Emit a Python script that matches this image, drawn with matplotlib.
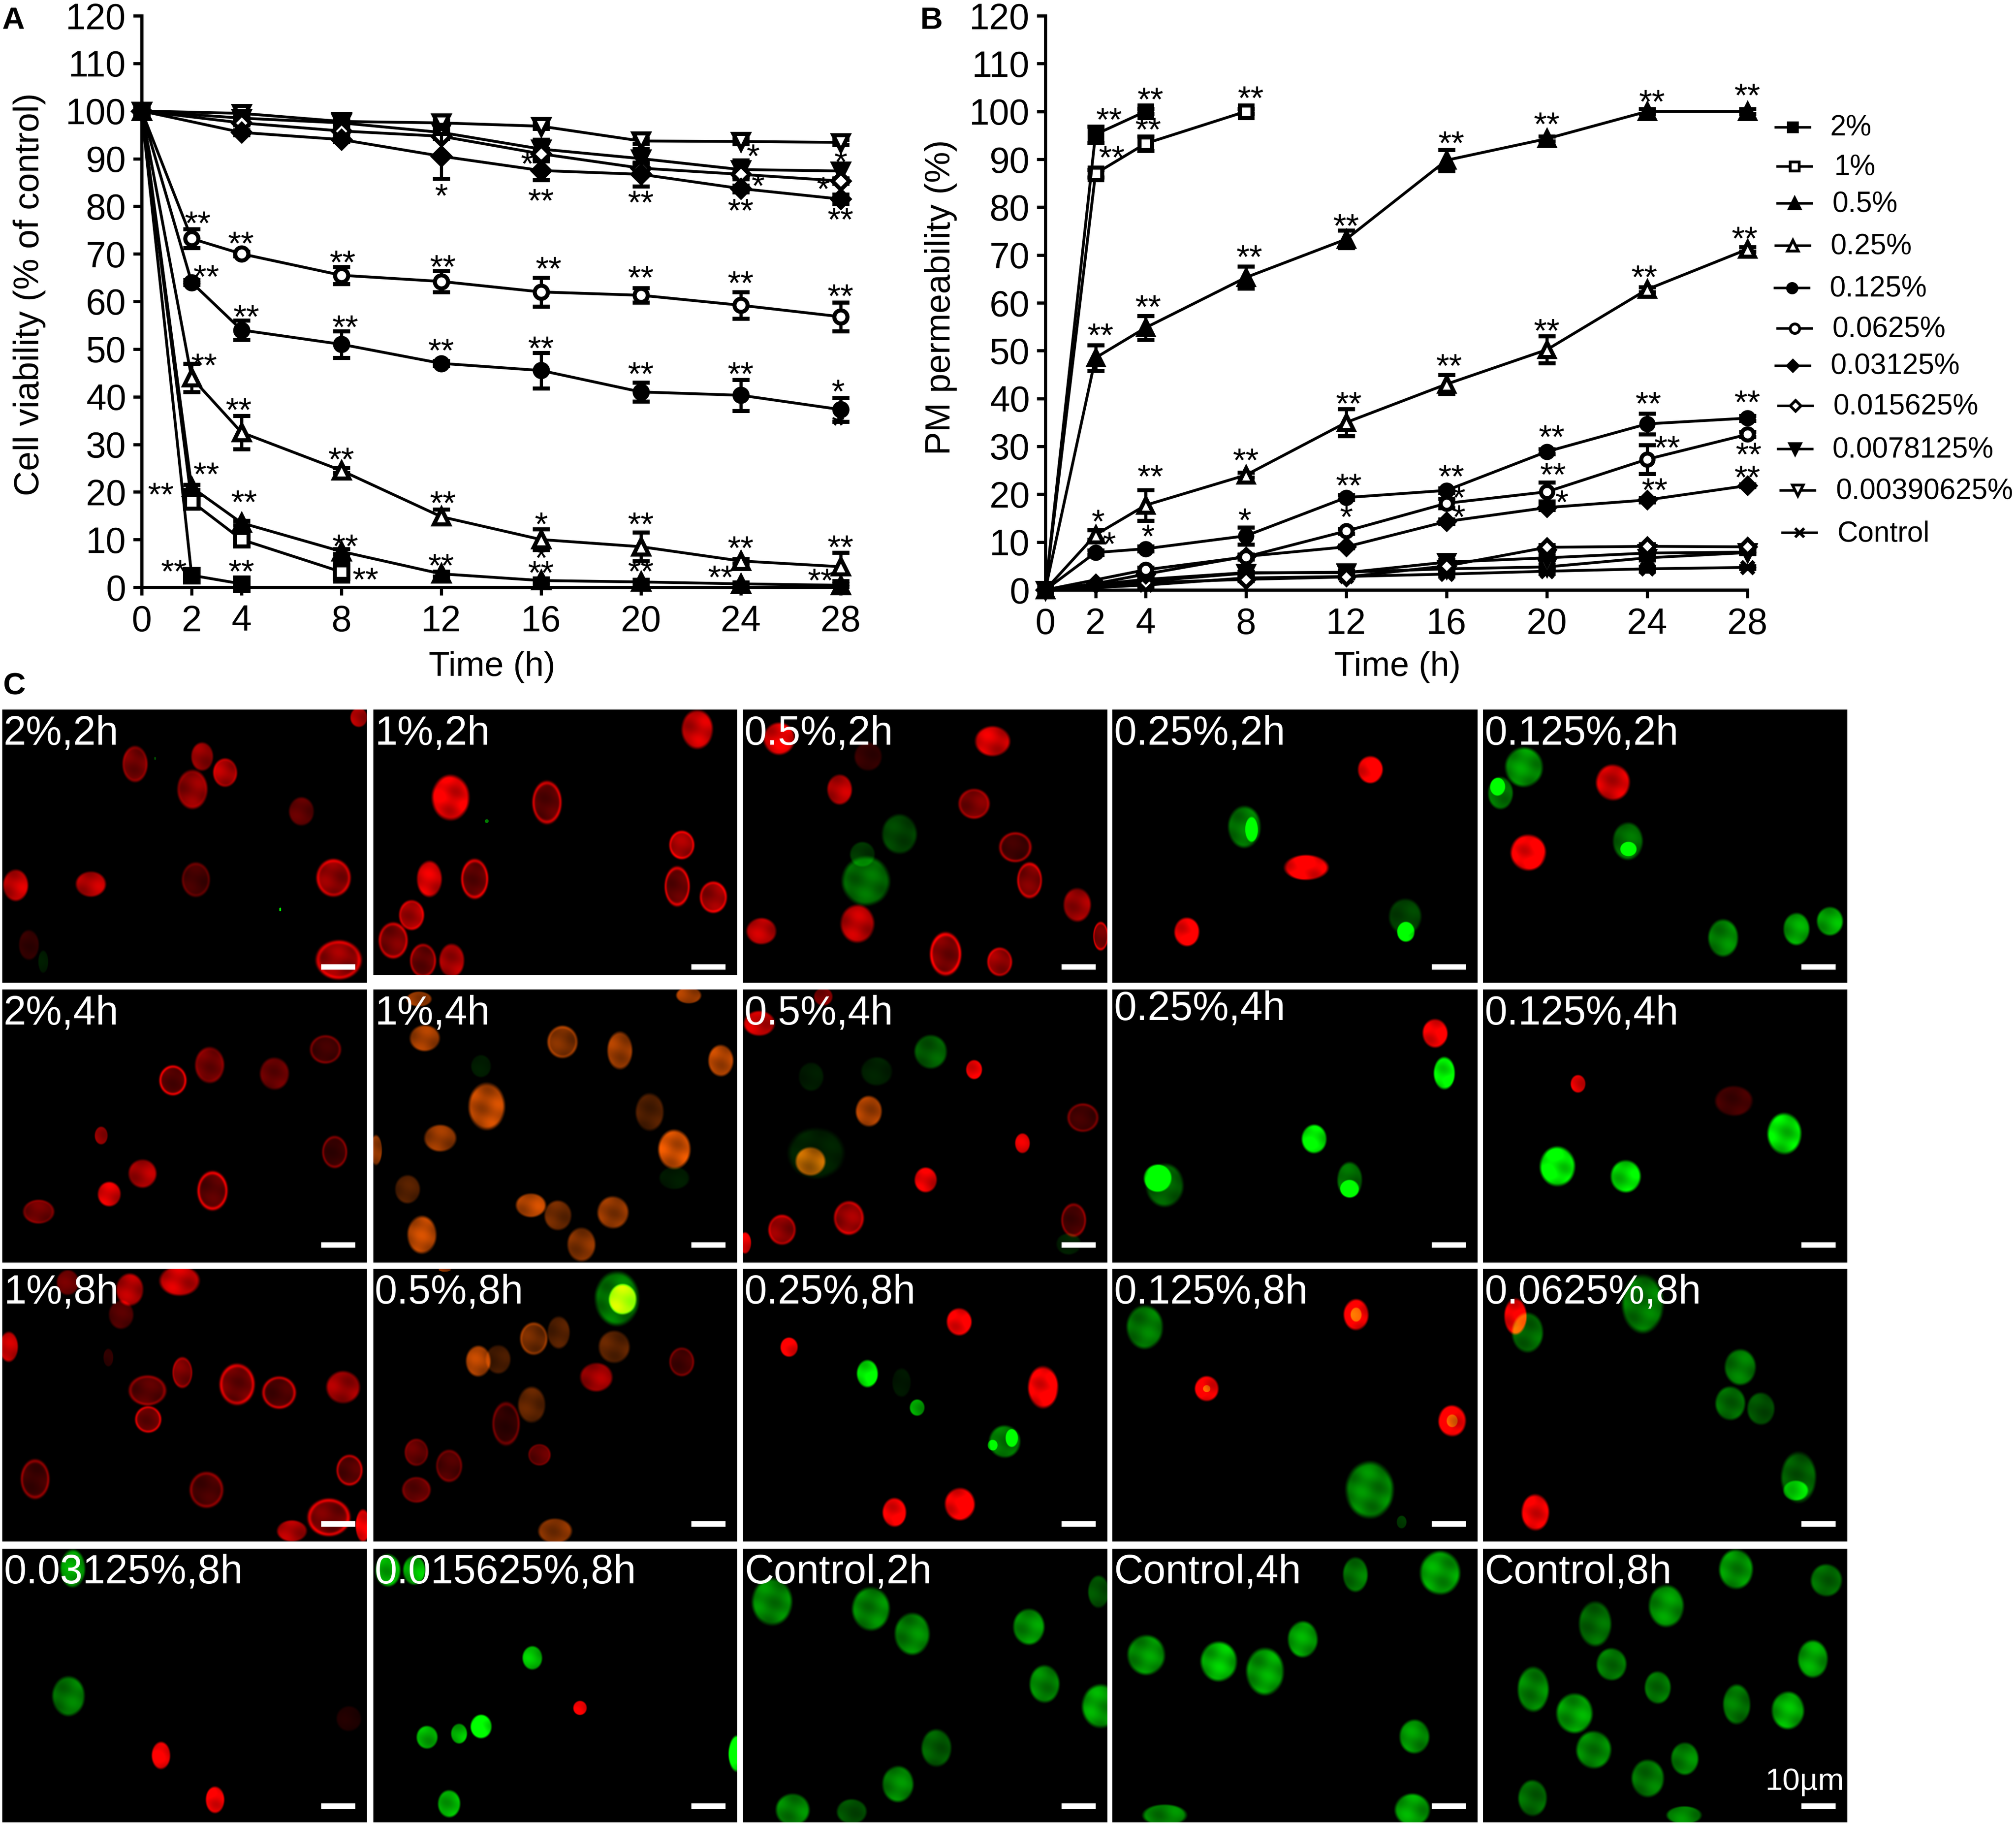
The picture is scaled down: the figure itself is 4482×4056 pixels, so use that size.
import numpy as np
import matplotlib
matplotlib.use("Agg")
import matplotlib.pyplot as plt
from matplotlib.patches import Rectangle

W, H = 4482, 4056
plt.rcParams['font.family'] = ['Liberation Sans', 'DejaVu Sans']

TIME = [0, 2, 4, 8, 12, 16, 20, 24, 28]
TICKS_Y = list(range(0, 121, 10))
SERIES = ['2%', '1%', '0.5%', '0.25%', '0.125%', '0.0625%', '0.03125%',
          '0.015625%', '0.0078125%', '0.00390625%', 'Control']

# Panel A values (None: no reading at that time)
A_2 = [100, 2.5, 0.7]
A_1 = [100, 18, 10, 3.2]
A_05 = [100, 21, 13.5, 7.5, 2.8, 1.4, 1.1, 0.7, 0.4]
A_025 = [100, 44, 32.5, 24.5, 14.8, 10, 8.5, 5.5, 4.3]
A_0125 = [100, 64, 54, 51, 47, 45.5, 41, 40.3, 37.3]
A_00625 = [100, 73.2, 70, 65.5, 64.2, 62, 61.3, 59.2, 56.8]
A_003 = [100, None, 95.5, 94, 90.5, 87.5, 86.7, 83.7, 81.5]
A_0015 = [100, None, 97.5, 95.8, 94.7, 91, 88, 86.7, 85.3]
A_0007 = [100, None, 98.5, 97.5, 95.5, 92, 90, 87.7, 87.4]
A_0003 = [100, None, 99.5, 97.8, 97.5, 96.8, 93.7, 93.6, 93.4]
A_E2 = [0, 0.8, 0.5]
A_E1 = [0, 1, 1, 2]
A_E05 = [0, 0.5, 0.5, 0.5, 0.5, 0.5, 0.5, 0.3, 0.3]
A_E025 = [0, 3, 3.5, 0.5, 1.5, 2.2, 3, 0.5, 3]
A_E0125 = [0, 0.5, 2, 2.8, 0.5, 3.7, 2, 3.3, 2.5]
A_E00625 = [0, 2, 0.5, 1.8, 2.2, 3, 1.5, 2.8, 3]
A_E003 = [0, 0, 0.5, 0.5, 4.7, 2, 2.5, 0.7, 1]
A_E0015 = [0, 0, 0.5, 0.5, 0.5, 1, 1, 0.5, 0.5]
A_E0007 = [0, 0, 0.3, 0.5, 0.5, 2, 2, 2, 1.5]
A_E0003 = [0, 0, 0.5, 0.5, 0.5, 0.5, 0.5, 0.5, 0.5]

# Panel B values
B_2 = [0, 95.2, 100]
B_1 = [0, 87, 93.3, 100]
B_05 = [0, 48.5, 54.8, 65.3, 73.3, 89.8, 94.3, 100, 100]
B_025 = [0, 11.5, 17.7, 24, 35, 43, 50.2, 62.8, 71.2]
B_0125 = [0, 7.8, 8.6, 11.3, 19.3, 20.8, 28.9, 34.7, 35.9]
B_00625 = [0, None, 4.2, 6.9, 12.3, 18.1, 20.5, 27.3, 32.5]
B_003 = [0, 1.3, 3.3, 7, 9, 14.3, 17.2, 18.8, 21.8]
B_0015 = [0, None, 1.5, 2.2, 2.7, 5, 8.9, 9.1, 9.0]
B_0007 = [0, None, 2.2, 3.6, 3.6, 5.8, 6.7, 7.7, 7.9]
B_0003 = [0, None, 1.8, 3.5, 3.7, 4.4, 4.8, 6.7, 7.8]
B_C = [0, None, 1, 2.5, 2.8, 3.3, 3.9, 4.4, 4.7]
B_E2 = [0, 1.7, 0.5]
B_E1 = [0, 0.8, 1.5, 0.5]
B_E05 = [0, 2.7, 2.5, 2.3, 1.8, 2.2, 0.5, 0.5, 0.5]
B_E025 = [0, 1, 3.2, 0.5, 2.8, 2, 2.8, 0.5, 0.5]
B_E0125 = [0, 0.5, 0.5, 1.8, 0.5, 0.5, 0.5, 2.2, 0.5]
B_E00625 = [0, 0, 0.5, 0.5, 0.5, 1, 2, 3, 0.5]
B_EZ = [0, 0, 0.3, 0.3, 0.3, 0.5, 0.5, 0.5, 0.3]

A_DATA = [A_2, A_1, A_05, A_025, A_0125, A_00625, A_003, A_0015, A_0007, A_0003]
A_ERR = [A_E2, A_E1, A_E05, A_E025, A_E0125, A_E00625, A_E003, A_E0015, A_E0007, A_E0003]
B_DATA = [B_2, B_1, B_05, B_025, B_0125, B_00625, B_003, B_0015, B_0007, B_0003, B_C]
B_ERR = [B_E2, B_E1, B_E05, B_E025, B_E0125, B_E00625, B_EZ, B_EZ, B_EZ, B_EZ, B_EZ]

# marker, filled?
STYLE = [('s', 1), ('s', 0), ('^', 1), ('^', 0), ('o', 1), ('o', 0), ('D', 1), ('D', 0),
         ('v', 1), ('v', 0), ('x', 1)]

A_STARS = [(2.25,77.2,'**'),(3.98,73,'**'),(8.05,69,'**'),(12.07,68.1,'**'),(16.3,67.7,'**'),(20,65.8,'**'),
           (24,64.7,'**'),(28,61.9,'**'),(2.6,66,'**'),(4.2,57.6,'**'),(8.16,55.4,'**'),(12,50.5,'**'),(16,51,'**'),
           (20,45.6,'**'),(24,45.6,'**'),(27.9,41.9,'*'),(27.9,34.7,'*'),(2.5,47.4,'**'),(3.9,38,'**'),(8,27.6,'**'),
           (12.07,18.5,'**'),(16,14,'*'),(20,14,'**'),(24,9,'**'),(28,9.2,'**'),(2.6,24.5,'**'),(0.78,20.3,'**'),
           (4.1,18.7,'**'),(1.29,4.1,'**'),(4,4.1,'**'),(8.16,9.4,'**'),(8.97,2.4,'**'),(12,5.3,'**'),(16,6.9,'*'),
           (16,3.8,'**'),(20,4.1,'**'),(23.2,2.9,'**'),(27.2,2.2,'**'),(12,83,'*'),(16,82,'**'),(20,81.6,'**'),
           (24,79.9,'**'),(28,78,'**'),(15.45,89.7,'*'),(24.5,91.3,'*'),(28,90.1,'*'),(24.7,85.1,'*'),(27.3,84.4,'*')]

B_STARS = [(2.2,54,'**'),(4.1,59.9,'**'),(8.15,70.4,'**'),(12,76.9,'**'),(16.2,94.2,'**'),(20,98.1,'**'),
           (24.2,102.8,'**'),(28,104.1,'**'),(2.55,99.1,'**'),(4.2,103.3,'**'),(8.2,103.6,'**'),(2.65,91.2,'**'),
           (4.1,97,'**'),(27.9,74.2,'**'),(23.9,66.2,'**'),(20,55,'**'),(16.1,47.6,'**'),(12.1,39.7,'**'),(8,27.9,'**'),
           (4.2,24.5,'**'),(2.1,15.1,'*'),(2.55,10.4,'*'),(4.1,12,'*'),(7.95,15.4,'*'),(12.1,22.6,'**'),(16.2,24.5,'**'),
           (20.2,32.8,'**'),(24.05,39.7,'**'),(28,40,'**'),(12,16,'*'),(16.5,20.1,'*'),(16.5,16,'*'),(20.25,24.9,'**'),
           (20.6,19.1,'*'),(24.8,30.5,'**'),(28.05,29.1,'**'),(24.3,21.7,'**'),(28,24.3,'**')]

# Cells: x, y, rx, ry, colour, brightness, ring
r, o, g, y = 'r', 'o', 'g', 'y'
C00 = [(235,190,25,48,r,.55,.3),(352,170,22,38,r,.55,0),(335,258,30,52,r,.6,.2),(392,213,24,38,r,.75,.2),(525,317,25,38,r,.35,0),
       (581,495,34,50,r,.75,.5),(341,500,28,46,r,.35,.5),(158,512,30,34,r,.7,0),(27,515,25,42,r,.75,0),(590,715,45,52,r,.8,.5),
       (50,675,20,40,r,.2,0),(625,65,17,26,r,.65,0),(488,580,2,5,g,1,0),(270,175,2,4,g,.3,0),(75,720,10,30,g,.1,0)]
C01 = [(1215,97,31,52,r,.75,0),(785,280,37,60,r,.9,0),(953,293,29,57,r,.65,.8),(1188,407,25,38,r,.85,.5),(748,498,25,48,r,.8,0),
       (827,498,27,53,r,.7,.8),(1180,518,25,53,r,.7,.8),(1243,547,27,42,r,.8,.5),(717,595,25,40,r,.8,.3),(685,663,29,48,r,.7,.6),
       (737,717,26,45,r,.6,.6),(787,717,25,45,r,.65,0),(848,343,4,5,g,.5,0)]
C02 = [(58,90,25,45,r,.85,0),(358,97,28,42,r,.8,0),(183,140,22,40,r,.2,0),(143,233,20,42,r,.7,0),(332,273,25,42,r,.6,.4),
       (390,395,26,42,r,.5,.9),(410,488,20,50,r,.7,.6),(477,557,22,47,r,.6,0),(33,631,24,37,r,.7,0),(168,610,27,53,r,.7,0),
       (510,645,12,40,r,.7,.7),(292,695,25,60,r,.8,.7),(368,717,20,40,r,.75,.4),(227,358,28,55,g,.25,0),(180,490,38,68,g,.4,0),(175,415,20,35,g,.2,0)]
C03 = [(889,177,20,38,r,1,0),(799,452,35,35,r,1,0),(631,633,20,40,r,1,0),(712,338,26,58,g,.45,0),(722,345,10,35,g,.8,0),
       (938,590,26,50,g,.25,0),(939,633,14,28,g,1,0)]
C04 = [(1105,170,30,55,g,.55,0),(1072,243,20,45,g,.45,0),(1068,225,12,25,g,.8,0),(1230,213,27,50,r,.8,0),(1111,410,28,50,r,1,0),
       (1251,378,24,52,g,.4,0),(1252,400,13,20,g,.9,0),(1385,650,24,52,g,.5,0),(1488,625,21,45,g,.6,0),(1535,603,21,40,g,.65,0)]
C10 = [(301,1038,27,40,r,.7,.9),(365,997,29,48,r,.5,.2),(478,1020,29,43,r,.4,0),(567,955,31,38,r,.4,.7),(176,1186,13,24,r,.6,0),
       (583,1230,25,43,r,.4,.8),(248,1288,28,38,r,.65,0),(190,1343,23,33,r,.8,0),(370,1334,30,52,r,.7,.9),(67,1390,31,32,r,.5,.3)]
C11 = [(740,925,30,35,o,.6,0),(730,820,25,20,o,.6,0),(980,935,30,43,o,.6,.4),(1080,958,25,50,o,.6,0),(1256,985,25,42,o,.7,0),
       (1200,810,25,22,o,.6,0),(848,1108,36,62,o,.7,0),(767,1193,32,36,o,.55,0),(1132,1123,28,50,o,.3,0),(655,1225,12,40,o,.6,0),
       (1175,1223,32,52,o,.8,0),(710,1330,25,38,o,.3,0),(925,1373,30,32,o,.7,0),(972,1400,27,40,o,.4,0),(1068,1392,31,43,o,.55,0),
       (735,1452,29,50,o,.7,0),(1013,1478,28,45,o,.5,0),(838,1000,20,30,g,.1,0),(1175,1300,30,30,g,.1,0)]
C12 = [(30,890,25,35,r,.75,0),(120,815,15,25,r,.5,0),(332,1020,13,27,r,1,0),(184,1137,21,43,o,.65,0),(485,1155,25,40,r,.4,.7),
       (400,1227,12,28,r,.8,0),(102,1278,24,40,o,.7,0),(264,1330,18,35,r,.85,0),(156,1437,24,47,r,.75,.4),(62,1470,22,42,r,.7,.4),
       (472,1443,20,47,r,.45,.7),(10,1507,10,30,r,.8,0),(271,970,26,47,g,.35,0),(103,1040,20,40,g,.1,0),(195,1025,25,40,g,.12,0),
       (110,1255,45,70,g,.12,0),(465,1510,20,30,g,.12,0)]
C13 = [(980,918,20,40,r,1,0),(993,1030,17,45,g,1,0),(810,1215,20,40,g,.9,0),(860,1330,20,50,g,.4,0),(860,1355,15,25,g,.85,0),
       (600,1345,30,60,g,.35,0),(590,1325,22,38,g,1,0)]
C14 = [(1181,1060,12,25,r,.9,0),(1400,1108,30,42,r,.25,0),(1471,1200,27,57,g,.85,0),(1152,1292,28,55,g,.95,0),(1248,1320,24,45,g,.85,0)]
C20 = [(252,45,32,42,r,.75,0),(182,70,22,45,r,.65,0),(170,140,20,40,r,.3,0),(95,50,18,35,r,.4,0),(12,230,15,42,r,.7,0),(152,260,8,25,r,.2,0),
       (256,302,16,43,r,.6,.4),(207,352,30,42,r,.5,.6),(333,335,28,57,r,.7,.7),(392,358,27,45,r,.6,.9),(482,343,27,45,r,.6,0),
       (208,433,21,37,r,.7,.7),(49,600,23,55,r,.45,.8),(290,630,27,50,r,.45,.7),(491,575,21,43,r,.6,.8),(462,707,34,52,r,.75,.7),
       (410,745,24,30,r,.65,0),(510,730,12,45,r,1,0)]
C21 = [(867,95,35,75,g,.45,0),(875,97,22,42,y,.85,0),(672,270,20,43,o,.65,0),(700,265,20,40,o,.25,0),(750,207,22,45,o,.55,.4),
       (785,190,18,45,o,.3,0),(863,230,25,45,o,.35,0),(838,315,26,40,r,.6,0),(958,272,20,40,r,.4,.6),(747,392,22,50,o,.35,0),
       (711,445,22,60,r,.35,.8),(585,525,19,38,r,.45,.3),(631,563,21,45,r,.4,.5),(758,532,18,30,r,.45,.3),(585,630,23,36,r,.45,.3),
       (780,745,27,35,o,.5,0),(625,14,10,6,o,.5,0)]
C22 = [(311,160,20,38,r,1,0),(72,231,14,27,r,1,0),(429,343,24,58,r,1,0),(220,693,19,40,r,1,0),(312,670,24,45,r,1,0),
       (182,305,17,38,g,.95,0),(252,400,12,23,g,.65,0),(375,495,25,45,g,.45,0),(385,485,10,25,g,.7,0),(358,505,8,15,g,.7,0),(230,330,15,40,g,.08,0)]
C23 = [(572,175,29,60,g,.45,0),(888,630,38,78,g,.5,0),(933,720,8,18,g,.2,0),(869,140,20,43,r,1,0),(869,140,9,20,g,.4,0),
       (659,347,19,35,r,1,0),(659,347,6,10,g,.4,0),(1004,437,22,43,r,1,0),(1004,437,9,18,g,.4,0)]
C24 = [(1093,145,18,50,r,1,0),(1121,693,22,50,r,.95,0),(1110,190,25,55,g,.4,0),(1272,110,33,80,g,.45,0),(1409,287,25,50,g,.45,0),
       (1395,388,24,47,g,.4,0),(1438,403,22,45,g,.3,0),(1491,595,28,70,g,.35,0),(1487,632,20,28,g,.5,0)]
C30 = [(102,850,20,52,g,.6,0),(96,1207,26,55,g,.45,0),(226,1373,15,38,r,.9,0),(302,1497,15,37,r,1,0),(490,1270,20,35,r,.12,0)]
C31 = [(545,855,20,45,g,.7,0),(582,855,18,40,g,.7,0),(748,1100,16,33,g,.7,0),(815,1240,11,20,r,.9,0),(600,1322,17,32,g,.7,0),
       (645,1312,13,28,g,.7,0),(676,1292,17,33,g,1,0),(631,1508,18,38,g,.7,0),(1036,1368,14,50,g,1,0)]
C32 = [(48,943,32,65,g,.5,0),(187,963,30,60,g,.5,0),(245,1033,28,58,g,.5,0),(409,1013,25,50,g,.55,0),(507,915,17,45,g,.3,0),
       (431,1173,24,52,g,.5,0),(510,1235,30,60,g,.6,0),(279,1352,24,52,g,.35,0),(225,1453,25,50,g,.5,0),(77,1525,27,45,g,.5,0),(160,1530,24,35,g,.3,0)]
C33 = [(868,867,20,48,g,.45,0),(987,862,32,60,g,.6,0),(794,1048,24,50,g,.6,0),(574,1092,30,55,g,.55,0),(676,1110,29,55,g,.7,0),
       (741,1138,30,65,g,.6,0),(951,1320,24,47,g,.55,0),(948,1525,28,45,g,.6,0),(600,1540,35,30,g,.5,0)]
C34 = [(1403,852,27,55,g,.55,0),(1530,883,25,45,g,.4,0),(1305,955,28,58,g,.55,0),(1205,1005,26,62,g,.4,0),(1511,1103,24,52,g,.6,0),
       (1228,1118,24,45,g,.45,0),(1293,1183,21,45,g,.45,0),(1118,1188,25,62,g,.5,0),(1404,1230,22,55,g,.45,0),(1476,1247,26,52,g,.65,0),
       (1176,1255,29,55,g,.6,0),(1203,1357,28,52,g,.5,0),(1331,1382,22,45,g,.5,0),(1279,1437,26,52,g,.45,0),(1117,1492,23,50,g,.4,0),(1330,1540,28,25,g,.5,0)]

PANEL_LABELS = [['2%,2h', '1%,2h', '0.5%,2h', '0.25%,2h', '0.125%,2h'],
                ['2%,4h', '1%,4h', '0.5%,4h', '0.25%,4h', '0.125%,4h'],
                ['1%,8h', '0.5%,8h', '0.25%,8h', '0.125%,8h', '0.0625%,8h'],
                ['0.03125%,8h', '0.015625%,8h', 'Control,2h', 'Control,4h', 'Control,8h']]
PANEL_CELLS = [[C00, C01, C02, C03, C04], [C10, C11, C12, C13, C14], [C20, C21, C22, C23, C24], [C30, C31, C32, C33, C34]]
COLS = [(5, 816), (830, 1639), (1652, 2462), (2473, 3285), (3297, 4107)]
ROWS = [(1577, 2184), (2199, 2806), (2820, 3426), (3442, 4050)]
# source scale of the cell coordinates: x0, y0, sx, sy
M4 = (0, 1540, 1.2755, 0.829)
M5 = (1640, 1570, 1.5816, 0.7908)
M6 = (0, 2810, 1.5816, 0.7946)
M7 = (1640, 2810, 1.5816, 0.7946)
MAPS = [[M4, M4, M5, M5, M5], [M4, M4, M5, M5, M5], [M6, M6, M7, M7, M7], [M6, M6, M7, M7, M7]]
RGB = {'r': (1, 0, 0), 'o': (1, .38, 0), 'g': (0, 1, 0), 'y': (.85, 1, 0)}


def render(x0, x1, y0, y1, cells, m):
    h, w = y1 - y0, x1 - x0
    img = np.zeros((h, w, 3), dtype=np.float32)
    for cx, cy, rx, ry, c, b, ring in cells:
        cx, cy = m[0] + cx * m[2] - x0, m[1] + cy * m[3] - y0
        rx, ry = max(rx * m[2] * 0.92, 2), ry * m[3] * 1.05
        i0, i1 = max(int(cy - ry * 1.4), 0), min(int(cy + ry * 1.4) + 1, h)
        j0, j1 = max(int(cx - rx * 1.4), 0), min(int(cx + rx * 1.4) + 1, w)
        if i1 <= i0 or j1 <= j0:
            continue
        Y, X = np.mgrid[i0:i1, j0:j1]
        d = np.sqrt(((X - cx) / rx) ** 2 + ((Y - cy) / ry) ** 2)
        t = np.clip((1.05 - d) / 0.25, 0, 1)
        body = t * t * (3 - 2 * t)
        mott = 1 + 0.13 * np.sin(0.09 * X + 0.03 * Y + cx) + 0.10 * np.sin(0.05 * X - 0.13 * Y + cy)
        val = b * body * mott * (1 - 0.6 * ring) + ring * b * np.exp(-((d - 0.88) / 0.09) ** 2)
        img[i0:i1, j0:j1] += val[..., None].astype(np.float32) * np.array(RGB[c], dtype=np.float32)
    return np.clip(img, 0, 1)


fig = plt.figure(figsize=(W / 100, H / 100), dpi=100, facecolor='white')


def make_axes(xa, xb, ya, yb):
    ax = fig.add_axes([xa / W, 1 - ya / H, (xb - xa) / W, (ya - yb) / H])
    ax.patch.set_alpha(0)
    ax.set_xlim(0, 28)
    ax.set_ylim(0, 120)
    ax.set_xticks(TIME)
    ax.set_yticks(TICKS_Y)
    for s in ('top', 'right'):
        ax.spines[s].set_visible(False)
    for s in ('left', 'bottom'):
        ax.spines[s].set_linewidth(5)
    ax.tick_params(axis='x', length=13, width=5, pad=15, labelsize=58)
    ax.tick_params(axis='y', length=14, width=5, pad=11, labelsize=58)
    return ax


def plot_panel(ax, data, errs, stars, ms, mew):
    n = len(data)
    for k in range(n - 1, -1, -1):
        m, filled = STYLE[k]
        size = ms * 1.15 if m in '^v' else (ms * 0.9 if m == 'D' else ms)
        keep = [i for i, v in enumerate(data[k]) if v is not None]
        xs = [TIME[i] for i in keep]
        ys = [data[k][i] for i in keep]
        es = [errs[k][i] for i in keep]
        ax.errorbar(xs, ys, yerr=es, color='black', lw=4.5, elinewidth=5, capsize=14, capthick=5,
                    marker=m, ms=size, mew=mew, mec='black', mfc='black' if filled else 'white',
                    clip_on=False, zorder=3 + (n - k) * 0.1)
    for sx, sy, lab in stars:
        ax.annotate(lab, (sx, sy), xytext=(0, -24), textcoords='offset points', ha='center', va='baseline',
                    fontsize=54, annotation_clip=False, zorder=10)


axA = make_axes(315, 1869, 1305, 35)
plot_panel(axA, A_DATA, A_ERR, A_STARS, 21, 6.5)
axB = make_axes(2324, 3885, 1311, 35)
plot_panel(axB, B_DATA, B_ERR, B_STARS, 19.5, 6.5)

ov = fig.add_axes([0, 0, 1, 1], zorder=20)
ov.patch.set_alpha(0)
ov.axis('off')

# Axis titles and panel letters
ov.text(66, 654, 'Cell viability (% of control)', rotation=90, ha='center', va='center', fontsize=56)
ov.text(2092, 661, 'PM permeability (%)', rotation=90, ha='center', va='center', fontsize=56)
ov.text(1094, 1502, 'Time (h)', ha='center', va='baseline', fontsize=55)
ov.text(3107, 1502, 'Time (h)', ha='center', va='baseline', fontsize=55)
ov.text(4, 64, 'A', fontsize=50, fontweight='bold', va='baseline')
ov.text(2045, 64, 'B', fontsize=50, fontweight='bold', va='baseline')
ov.text(6, 1543, 'C', fontsize=50, fontweight='bold', va='baseline')

# Legend
LEG_Y = [283, 370, 452, 546, 640, 730, 813, 902, 998, 1090, 1184]
LEG_MX = [3986, 3990, 3990, 3986, 3984, 3990, 3986, 3992, 3991, 3997, 4001]
LEG_TX = [4069, 4077, 4073, 4070, 4067, 4073, 4070, 4075, 4074, 4081, 4085]
for k, lab in enumerate(SERIES):
    m, filled = STYLE[k]
    size = 17 if m in '^v' else (12 if m == 'D' else 15)
    ov.plot([LEG_MX[k] - 38, LEG_MX[k], LEG_MX[k] + 38], [LEG_Y[k]] * 3, color='black', lw=4, marker=m, markevery=[1],
            ms=size, mew=4.5, mec='black', mfc='black' if filled else 'white')
    ov.text(LEG_TX[k], LEG_Y[k] + 2, lab, fontsize=46, va='center', ha='left')

# Micrographs
BAR_BOTTOM = [2155, 2773, 3393, 4020]
for ri, (y0, y1) in enumerate(ROWS):
    for ci, (x0, x1) in enumerate(COLS):
        yb = 2167 if (ri == 0 and ci == 1) else y1
        img = render(x0, x1, y0, yb, PANEL_CELLS[ri][ci], MAPS[ri][ci])
        ov.imshow(img, extent=(x0, x1, yb, y0), interpolation='bilinear', aspect='auto', zorder=1)
        base = y0 + (67 if PANEL_LABELS[ri][ci] == '0.25%,4h' else 77)
        ov.text(x0 + 3, base, PANEL_LABELS[ri][ci], color='white', fontsize=65, va='baseline', ha='left', zorder=3)
        ov.add_patch(Rectangle((x1 - 102, BAR_BOTTOM[ri] - 12), 76, 12, fc='white', ec='none', zorder=3))
ov.text(4100, 3978, '10µm', color='white', fontsize=50, ha='right', va='baseline', zorder=3)
ov.set_xlim(0, W)
ov.set_ylim(H, 0)

fig.savefig('out.png', dpi=100)
